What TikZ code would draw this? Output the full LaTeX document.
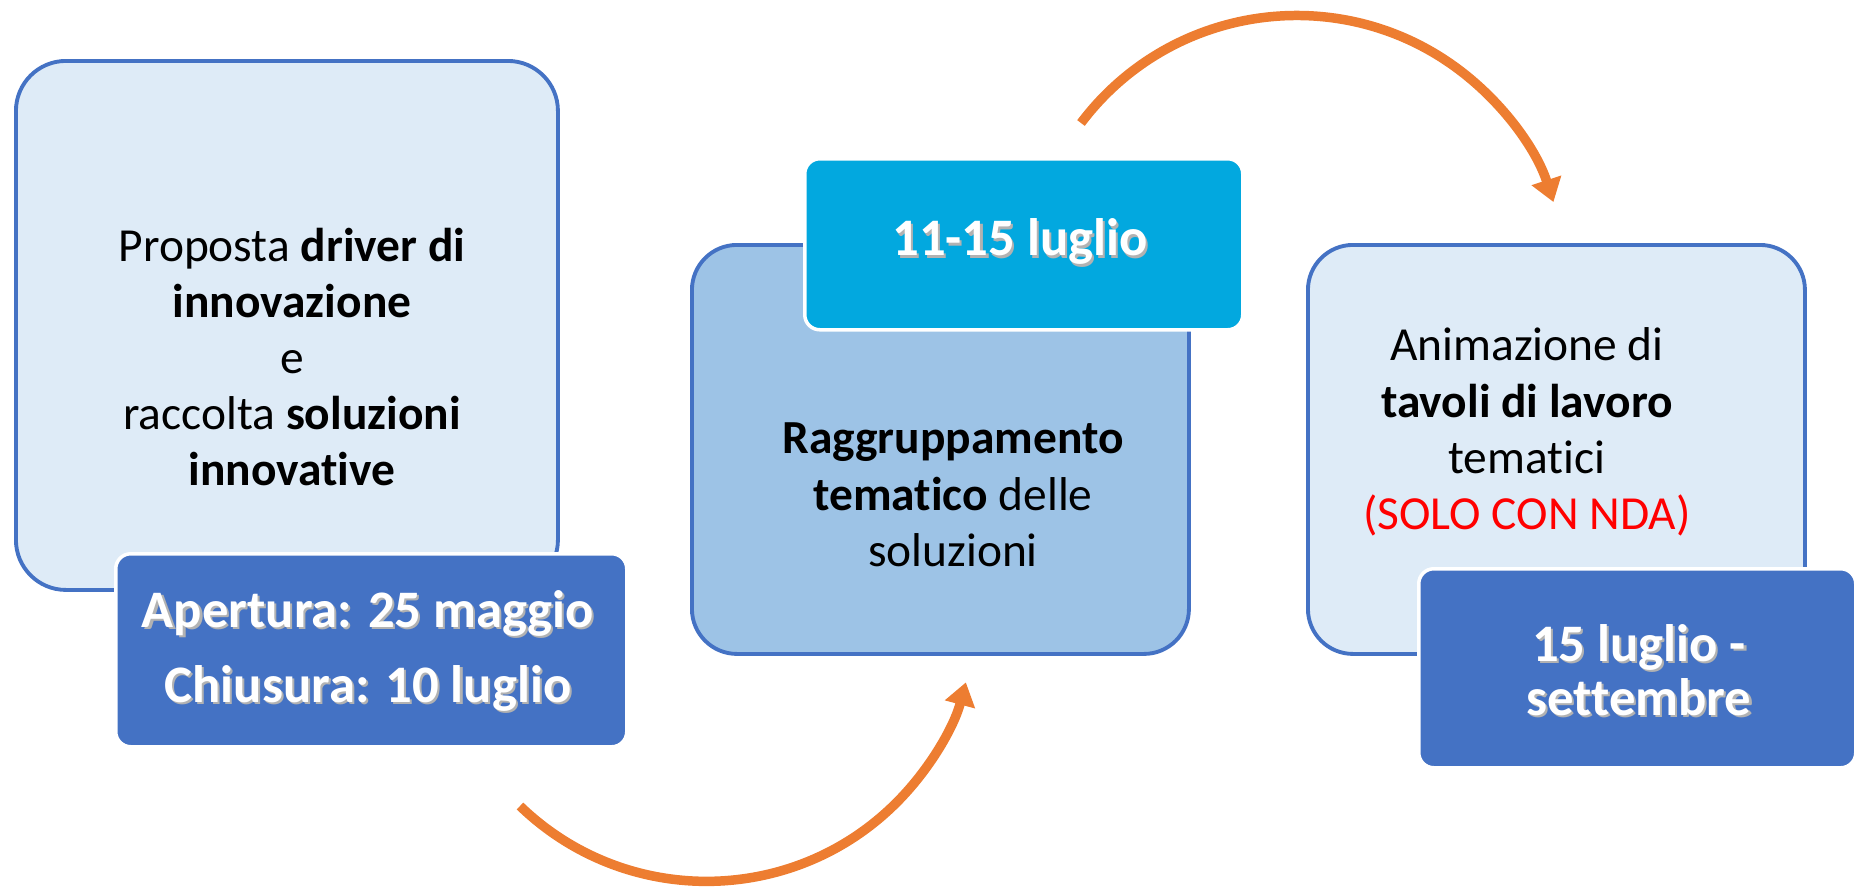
\documentclass[tikz,border=0pt]{standalone}
\usepackage{fontspec}
\setmainfont{Carlito}[Ligatures=NoCommon]
\usetikzlibrary{arrows.meta}
\definecolor{paleblue}{HTML}{DEEBF7}
\definecolor{midblue}{HTML}{9DC3E6}
\definecolor{darkblue}{HTML}{4472C4}
\definecolor{skyblue}{HTML}{02A8DF}
\definecolor{floworange}{HTML}{ED7D31}
\newcommand{\shadowtxt}[1]{\makebox[0pt][l]{\hspace{0.6pt}\raisebox{-0.6pt}{\color{black!30}#1}}#1}

\begin{document}
\begin{tikzpicture}[
    phasebox/.style={draw=darkblue, line width=1.1pt, rounded corners=0.5cm, anchor=north west, inner sep=0pt},
    datebox/.style={draw=white, line width=1pt, rounded corners=0.15cm, anchor=north west, inner sep=0pt},
    bodytxt/.style={align=center, font=\fontsize{13.5}{16}\selectfont},
    datetxt/.style={align=center, text=white, font=\fontsize{15}{21.5}\selectfont\bfseries},
    flow/.style={floworange, line width=2.7pt, -{Triangle[width=8.5pt,length=6.5pt]}}]
      \useasboundingbox (0,0) rectangle (18.56,8.88);
      %%%%%%%%%%%%%%%%%%%%%%%%%%%%%%%%%%%%%%%%%%%%%%%
      \node[phasebox, fill=paleblue, minimum width=5.42cm, minimum height=5.29cm] at (0.14,8.29) (b1) {};
      \node[bodytxt] at (2.92,5.31) (t1) {Proposta \textbf{driver di}\\ \textbf{innovazione}\\ e\\ raccolta \textbf{soluzioni}\\ \textbf{innovative}};
      \node[datebox, fill=darkblue, minimum width=5.11cm, minimum height=1.93cm] at (1.14,3.36) (d1) {};
      \node[datetxt] at (3.68,2.36) (dt1) {\shadowtxt{Apertura: 25 maggio}\\ \shadowtxt{Chiusura: 10 luglio}};
      %%%%%%%%%%%%%%%%%%%%%%%%%%%%%%%%%%%%%%%%%%%%%%%
      \node[phasebox, fill=midblue, minimum width=4.97cm, minimum height=4.09cm, rounded corners=0.45cm] at (6.90,6.45) (b2) {};
      \node[bodytxt] at (9.53,3.93) (t2) {\textbf{Raggruppamento}\\ \textbf{tematico} delle\\ soluzioni};
      \node[datebox, fill=skyblue, minimum width=4.38cm, minimum height=1.71cm] at (8.03,7.31) (d2) {};
      \node[datetxt] at (10.20,6.45) (dt2) {\shadowtxt{11-15 luglio}};
      %%%%%%%%%%%%%%%%%%%%%%%%%%%%%%%%%%%%%%%%%%%%%%%
      \node[phasebox, fill=paleblue, minimum width=4.97cm, minimum height=4.09cm, rounded corners=0.45cm] at (13.06,6.45) (b3) {};
      \node[bodytxt] at (15.27,4.56) (t3) {Animazione di\\ \textbf{tavoli di lavoro}\\ tematici\\ \textcolor{red}{(SOLO CON NDA)}};
      \node[datebox, fill=darkblue, minimum width=4.37cm, minimum height=1.99cm] at (14.17,3.21) (d3) {};
      \node[datetxt, font=\fontsize{15}{15.5}\selectfont\bfseries] at (16.39,2.17) (dt3) {\shadowtxt{15 luglio -}\\ \shadowtxt{settembre}};
      %%%%%%%%%%%%%%%%%%%%%%%%%%%%%%%%%%%%%%%%%%%%%%%
      \coordinate (f1) at (5.20,0.82);
      \coordinate (f2) at (10.81,7.65);
      \draw[flow] (f1) arc[start angle=226, end angle=345, radius=2.685];
      \draw[flow] (f2) arc[start angle=143, end angle=18, radius=2.70];
      %%%%%%%%%%%%%%%%%%%%%%%%%%%%%%%%%%%%%%%%%%%%%%%
\end{tikzpicture}
\end{document}
